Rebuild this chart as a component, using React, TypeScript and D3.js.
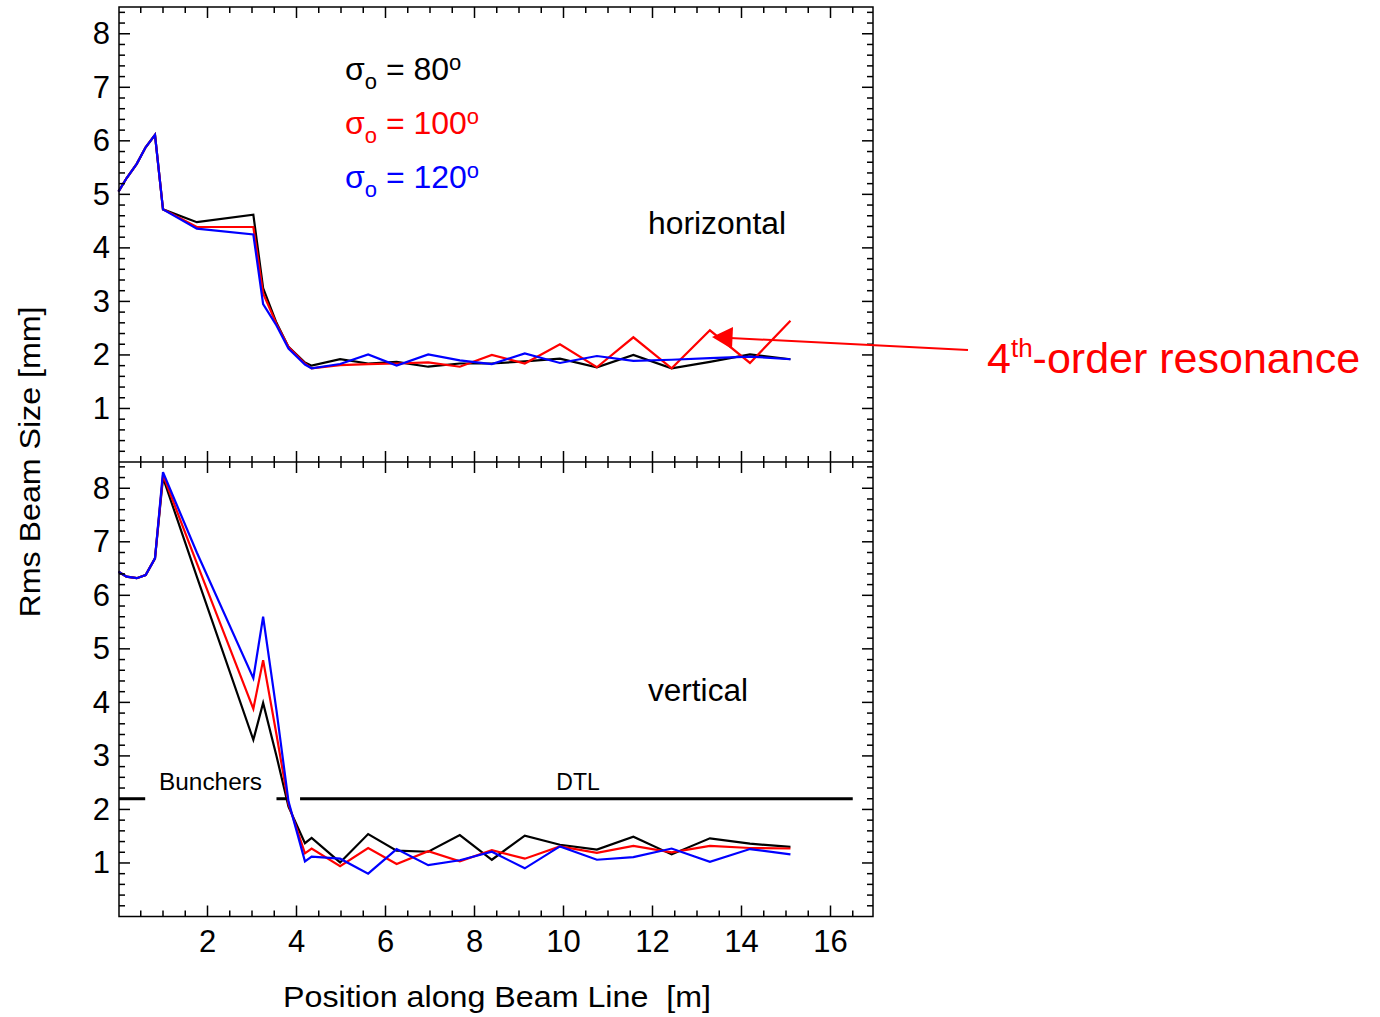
import React from "react";
import * as d3 from "d3";

// Positions along beam line [m]
const xPos = [0, 0.18, 0.41, 0.61, 0.82, 1.0, 1.76, 3.03, 3.25, 3.55, 3.82, 4.19, 4.34, 4.98, 5.61, 6.25, 6.96, 7.67, 8.39, 9.13, 9.92, 10.75, 11.57, 12.43, 13.29, 14.19, 15.1];

// Horizontal rms beam size [mm]
const hBlack = [5.05, 5.3, 5.57, 5.88, 6.11, 4.72, 4.48, 4.62, 3.25, 2.6, 2.15, 1.86, 1.8, 1.92, 1.84, 1.87, 1.78, 1.84, 1.84, 1.88, 1.93, 1.77, 2.0, 1.75, 1.87, 2.01, 1.92];
const hRed = [5.05, 5.3, 5.57, 5.88, 6.11, 4.72, 4.39, 4.39, 3.15, 2.58, 2.15, 1.84, 1.75, 1.81, 1.83, 1.84, 1.86, 1.78, 2.0, 1.84, 2.2, 1.77, 2.33, 1.75, 2.46, 1.85, 2.64];
const hBlue = [5.05, 5.3, 5.57, 5.88, 6.11, 4.72, 4.36, 4.25, 2.95, 2.55, 2.12, 1.82, 1.75, 1.83, 2.01, 1.8, 2.01, 1.9, 1.83, 2.03, 1.85, 1.98, 1.89, 1.91, 1.94, 1.97, 1.92];

// Vertical rms beam size [mm]
const vBlack = [6.44, 6.35, 6.32, 6.38, 6.69, 8.2, 6.35, 3.3, 3.99, 3.0, 2.05, 1.37, 1.47, 1.01, 1.54, 1.23, 1.21, 1.52, 1.06, 1.51, 1.34, 1.25, 1.49, 1.16, 1.46, 1.36, 1.3];
const vRed = [6.44, 6.35, 6.32, 6.38, 6.69, 8.25, 6.6, 3.88, 4.79, 3.4, 2.1, 1.18, 1.27, 0.94, 1.28, 0.98, 1.22, 1.03, 1.24, 1.08, 1.31, 1.19, 1.32, 1.2, 1.32, 1.28, 1.27];
const vBlue = [6.44, 6.35, 6.32, 6.38, 6.69, 8.3, 6.8, 4.45, 5.6, 3.85, 2.15, 1.03, 1.12, 1.08, 0.8, 1.26, 0.96, 1.05, 1.21, 0.9, 1.31, 1.06, 1.11, 1.27, 1.02, 1.26, 1.16];

const xTickLabels = [2, 4, 6, 8, 10, 12, 14, 16];
const yTickLabels = [1, 2, 3, 4, 5, 6, 7, 8];
const legendLabels = ["80", "100", "120"];
const seriesColors = ["#000000", "#ff0000", "#0000ff"];

// Section bars (vertical panel): [start, end] in m, at 2.2 mm
const sectionLevel = 2.2;
const buncherBars = [[0, 0.6], [3.55, 3.78]];
const dtlBar = [4.08, 16.5];

const FONT = "'Liberation Sans', Arial, Helvetica, sans-serif";

export default function App() {
  const W = 1380, H = 1017;
  const left = 119, right = 873;
  const x = d3.scaleLinear().domain([0, 17]).range([118.5, 875]);
  const yTop = d3.scaleLinear().domain([0, 8.5]).range([462, 7]);
  const yBot = d3.scaleLinear().domain([0, 8.5]).range([916.5, 461.5]);

  const mkLine = (ys: number[], sc: d3.ScaleLinear<number, number>) =>
    d3.line<number>().x((_, i) => x(xPos[i])).y((d) => sc(d))(ys) as string;

  const topSeries = [hBlack, hRed, hBlue];
  const botSeries = [vBlack, vRed, vBlue];

  const xMinor = d3.range(0.5, 17, 0.5);
  const yMinor = d3.range(0.2, 8.5, 0.2);

  const ticks: JSX.Element[] = [];
  xMinor.forEach((v, i) => {
    const px = x(v);
    const major = Math.abs(v % 2) < 1e-6;
    const L = major ? 11 : 6;
    ticks.push(<line key={"xt" + i} x1={px} x2={px} y1={7} y2={7 + L} />);
    ticks.push(<line key={"xm1" + i} x1={px} x2={px} y1={462} y2={462 - L} />);
    ticks.push(<line key={"xm2" + i} x1={px} x2={px} y1={462} y2={462 + L} />);
    ticks.push(<line key={"xb" + i} x1={px} x2={px} y1={916.5} y2={916.5 - L} />);
  });
  [yTop, yBot].forEach((sc, k) => {
    yMinor.forEach((v, i) => {
      const py = sc(v);
      const major = Math.abs(v - Math.round(v)) < 1e-6;
      const L = major ? 11 : 6;
      ticks.push(<line key={"yl" + k + "_" + i} x1={left} x2={left + L} y1={py} y2={py} />);
      ticks.push(<line key={"yr" + k + "_" + i} x1={right} x2={right - L} y1={py} y2={py} />);
    });
  });

  return (
    <svg width={W} height={H} style={{ position: "absolute", left: 0, top: 0, background: "#fff" }} fontFamily={FONT}>
      <rect x={0} y={0} width={W} height={H} fill="#fff" />
      {/* data lines */}
      <g fill="none" strokeWidth={2.2} strokeLinejoin="miter">
        {topSeries.map((s, i) => (
          <path key={"t" + i} d={mkLine(s, yTop)} stroke={seriesColors[i]} />
        ))}
        {botSeries.map((s, i) => (
          <path key={"b" + i} d={mkLine(s, yBot)} stroke={seriesColors[i]} />
        ))}
      </g>
      {/* frame */}
      <g stroke="#000" strokeWidth={1.5} fill="none">
        <rect x={left} y={7} width={right - left} height={916.5 - 7} />
        <line x1={left} x2={right} y1={462} y2={462} />
        {ticks}
      </g>
      {/* tick labels */}
      <g fontSize={31} fill="#000">
        {yTickLabels.map((v) => (
          <text key={"lt" + v} x={110} y={yTop(v)} textAnchor="end" dominantBaseline="central">{v}</text>
        ))}
        {yTickLabels.map((v) => (
          <text key={"lb" + v} x={110} y={yBot(v)} textAnchor="end" dominantBaseline="central">{v}</text>
        ))}
        {xTickLabels.map((v) => (
          <text key={"lx" + v} x={x(v)} y={941} textAnchor="middle" dominantBaseline="central">{v}</text>
        ))}
      </g>
      {/* axis titles */}
      <text x={283} y={1007} fontSize={30} fill="#000" textLength={428} lengthAdjust="spacingAndGlyphs" xmlSpace="preserve">Position along Beam Line  [m]</text>
      <text transform="translate(40,462) rotate(-90)" textAnchor="middle" fontSize={30} fill="#000" textLength={311} lengthAdjust="spacingAndGlyphs">Rms Beam Size [mm]</text>
      {/* legend */}
      {legendLabels.map((lab, i) => (
        <text key={"lg" + i} x={345} y={80 + i * 54} fontSize={32} fill={seriesColors[i]}>
          σ<tspan fontSize={22} dy={9}>o</tspan><tspan dy={-9}>{" = " + lab}</tspan><tspan fontSize={22} dy={-10}>o</tspan>
        </text>
      ))}
      {/* panel labels */}
      <text x={648} y={234} fontSize={31} fill="#000" textLength={138} lengthAdjust="spacingAndGlyphs">horizontal</text>
      <text x={648} y={701} fontSize={31} fill="#000" textLength={100} lengthAdjust="spacingAndGlyphs">vertical</text>
      {/* section bars */}
      <g stroke="#000" strokeWidth={3}>
        {buncherBars.map((b, i) => (
          <line key={"bb" + i} x1={Math.max(x(b[0]), left)} x2={x(b[1])} y1={yBot(sectionLevel)} y2={yBot(sectionLevel)} />
        ))}
        <line x1={x(dtlBar[0])} x2={x(dtlBar[1])} y1={yBot(sectionLevel)} y2={yBot(sectionLevel)} />
      </g>
      <text x={159} y={790} fontSize={23} fill="#000" textLength={103} lengthAdjust="spacingAndGlyphs">Bunchers</text>
      <text x={578} y={790} fontSize={23} fill="#000" textAnchor="middle">DTL</text>
      {/* annotation */}
      <line x1={968} y1={350} x2={730} y2={338} stroke="#ff0000" strokeWidth={2} />
      <path d="M712,337 L733,327 L732,349 Z" fill="#ff0000" />
      <text x={987} y={373} fontSize={43} fill="#ff0000">
        4<tspan fontSize={26} dy={-16}>th</tspan><tspan dy={16}>-order resonance</tspan>
      </text>
    </svg>
  );
}
